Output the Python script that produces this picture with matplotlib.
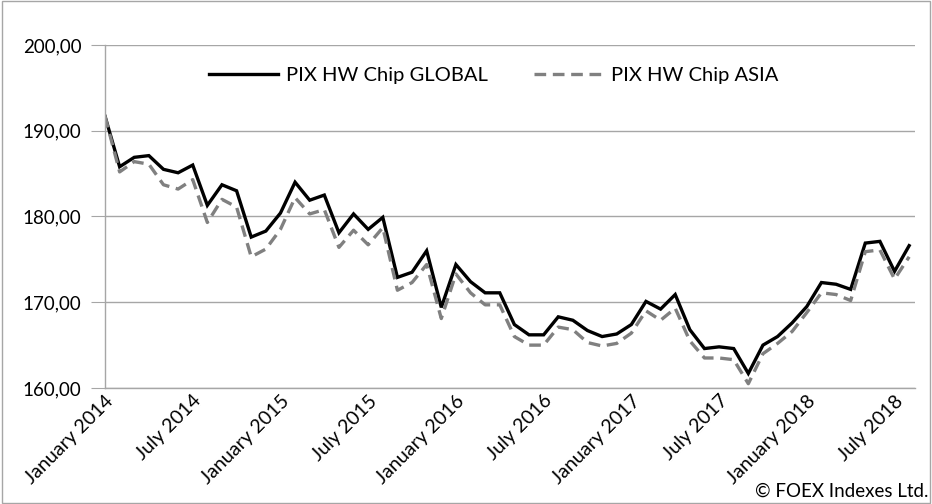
import matplotlib
matplotlib.use("Agg")
import matplotlib.pyplot as plt
from matplotlib.patches import Rectangle

months = ["January", "February", "March", "April", "May", "June", "July",
          "August", "September", "October", "November", "December"]
dates = [f"{months[i % 12]} {2014 + i // 12}" for i in range(56)]

global_vals = [191.7, 185.8, 186.9, 187.1, 185.5, 185.1, 186.0, 181.3, 183.7, 183.0,
               177.6, 178.3, 180.4, 184.0, 181.9, 182.5, 178.1, 180.3, 178.5, 179.9,
               172.9, 173.5, 176.0, 169.4, 174.4, 172.4, 171.1, 171.1, 167.4, 166.2,
               166.2, 168.3, 167.9, 166.7, 166.0, 166.3, 167.4, 170.1, 169.2, 170.9,
               166.8, 164.6, 164.8, 164.6, 161.7, 165.0, 166.0, 167.6, 169.5, 172.3,
               172.1, 171.5, 176.9, 177.1, 173.6, 176.6]
asia_vals = [191.7, 185.2, 186.4, 186.1, 183.7, 183.2, 184.3, 179.3, 182.0, 181.1,
             175.3, 176.2, 178.5, 182.2, 180.3, 180.8, 176.4, 178.4, 176.7, 178.7,
             171.4, 172.3, 174.4, 168.1, 173.3, 171.1, 169.7, 169.7, 166.0, 165.0,
             165.0, 167.1, 166.8, 165.3, 164.9, 165.2, 166.4, 169.0, 167.9, 169.3,
             165.5, 163.5, 163.5, 163.3, 160.5, 164.0, 165.2, 166.6, 168.8, 171.1,
             170.9, 170.2, 175.9, 176.1, 172.7, 175.3]
series_names = ["PIX HW Chip GLOBAL", "PIX HW Chip ASIA"]
yticks = [160, 170, 180, 190, 200]
tick_idx = list(range(0, 56, 6))

FONT = "Lato"
fig = plt.figure(figsize=(9.32, 5.04), dpi=100)
fig.patches.append(Rectangle((0.002, 0.002), 0.996, 0.996, transform=fig.transFigure,
                             fill=False, edgecolor="#a6a6a6", linewidth=1.0))
ax = fig.add_axes([105 / 932, 1 - 388 / 504, 810 / 932, 343 / 504])

x = list(range(len(dates)))
ax.plot(x, global_vals, color="black", lw=2.4, label=series_names[0], solid_joinstyle="miter")
ax.plot(x, asia_vals, color="#808080", lw=2.4, ls=(0, (3.5, 2)), label=series_names[1])

ax.set_xlim(0, 55.4)
ax.set_ylim(160, 200)
ax.set_yticks(yticks)
ax.set_yticklabels([f"{v:.2f}".replace(".", ",") for v in yticks], fontsize=13.5, family=FONT)
ax.yaxis.grid(True, color="#a6a6a6", lw=1.0)
ax.set_axisbelow(True)
ax.tick_params(axis="y", length=10, color="#a6a6a6", pad=7)
ax.set_xticks(tick_idx)
ax.set_xticklabels([dates[i] for i in tick_idx], rotation=45, ha="right", va="top",
                   rotation_mode="anchor", fontsize=14, family=FONT)
ax.tick_params(axis="x", length=0, pad=3)
for s in ["top", "right"]:
    ax.spines[s].set_visible(False)
for s in ["left", "bottom"]:
    ax.spines[s].set_color("#a6a6a6")
    ax.spines[s].set_linewidth(1.0)

leg = ax.legend(loc="upper center", bbox_to_anchor=(0.48, 0.99), ncol=2, frameon=False,
                prop={"family": FONT, "size": 14.5}, handlelength=3.4, columnspacing=2.3,
                handletextpad=0.4)

fig.text(0.996, 0.008, "\u00a9 FOEX Indexes Ltd.", ha="right", va="bottom",
         fontsize=13.5, family=FONT)

fig.savefig("out.png", dpi=100)
